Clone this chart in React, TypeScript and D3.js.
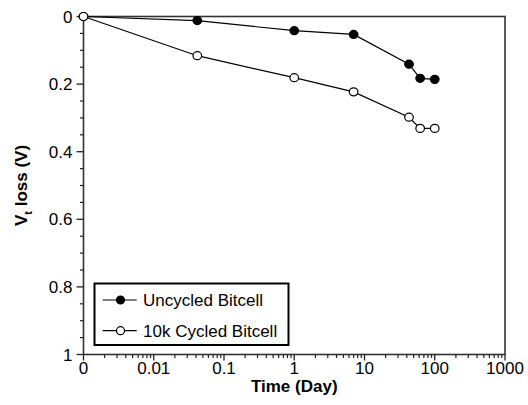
import { useMemo } from "react";
import * as d3 from "d3";

// time in days (0 drawn at the 0.001 decade position), Vt loss in volts
const times = [0, 1 / 24, 1, 7, 43, 62, 100];
const uncycled = [0, 0.012, 0.042, 0.053, 0.141, 0.183, 0.186];
const cycled = [0, 0.116, 0.181, 0.223, 0.298, 0.331, 0.331];
const xTicks = [0.001, 0.01, 0.1, 1, 10, 100, 1000];
const xTickLabels = ["0", "0.01", "0.1", "1", "10", "100", "1000"];
const yTicks = [0, 0.2, 0.4, 0.6, 0.8, 1];
const yTickLabels = ["0", "0.2", "0.4", "0.6", "0.8", "1"];
const series = [
  { name: "Uncycled Bitcell", values: uncycled, fill: "#000" },
  { name: "10k Cycled Bitcell", values: cycled, fill: "#fff" },
];

if (typeof document !== "undefined") document.body.style.margin = "0";

const W = 528, H = 405;
const M = { l: 83.5, r: 23, t: 16.5, b: 50.5 };
const FONT = "'Liberation Sans', Arial, sans-serif";

export default function App() {
  const x = d3.scaleLog().domain([0.001, 1000]).range([M.l, W - M.r]);
  const y = d3.scaleLinear().domain([0, 1]).range([M.t, H - M.b]);
  const tx = (t: number) => x(t === 0 ? 0.001 : t);

  const minorX = useMemo(() => {
    const out: number[] = [];
    for (let e = -3; e < 3; e++) for (let k = 2; k <= 9; k++) out.push(k * Math.pow(10, e));
    return out;
  }, []);
  const minorY = d3.range(0, 1.0001, 0.05).filter((_, i) => i % 4 !== 0);

  const line = d3.line<number>().x((_, i) => tx(times[i])).y(v => y(v));
  const x0 = M.l, x1 = W - M.r, y0 = M.t, y1 = H - M.b;

  const lg = { x: 94.5, y: 283.5, w: 194, h: 61.5 };

  return (
    <svg width={W} height={H} style={{ display: "block", fontFamily: FONT }}>
      <rect width={W} height={H} fill="#fff" />
      {/* frame */}
      <rect x={x0} y={y0} width={x1 - x0} height={y1 - y0} fill="none" stroke="#333" strokeWidth={1.6} />

      {/* y ticks */}
      {yTicks.map((t, i) => (
        <g key={"y" + i}>
          <line x1={x0 - 7} x2={x0} y1={y(t)} y2={y(t)} stroke="#222" strokeWidth={1.3} />
          <text x={x0 - 11} y={y(t) + 6} textAnchor="end" fontSize={17}>{yTickLabels[i]}</text>
        </g>
      ))}
      {minorY.map((t, i) => (
        <line key={"ym" + i} x1={x0 - 3.5} x2={x0} y1={y(t)} y2={y(t)} stroke="#222" strokeWidth={1.2} />
      ))}

      {/* x ticks */}
      {xTicks.map((t, i) => (
        <g key={"x" + i}>
          <line x1={x(t)} x2={x(t)} y1={y1} y2={y1 + 6} stroke="#222" strokeWidth={1.3} />
          <text x={x(t)} y={y1 + 19} textAnchor="middle" fontSize={17}>{xTickLabels[i]}</text>
        </g>
      ))}
      {minorX.map((t, i) => (
        <line key={"xm" + i} x1={x(t)} x2={x(t)} y1={y1} y2={y1 + 3.5} stroke="#222" strokeWidth={1.2} />
      ))}

      {/* axis titles */}
      <text x={(x0 + x1) / 2} y={392} textAnchor="middle" fontSize={17} fontWeight="bold">Time (Day)</text>
      <text transform={`translate(27 ${(y0 + y1) / 2}) rotate(-90)`} textAnchor="middle" fontSize={17} fontWeight="bold">
        V<tspan fontSize={11} dy={5}>t</tspan><tspan dy={-5}> loss (V)</tspan>
      </text>

      {/* series */}
      {series.map((s, si) => (
        <g key={"s" + si}>
          <path d={line(s.values) || ""} fill="none" stroke="#000" strokeWidth={1.2} />
          {s.values.map((v, i) => (
            <ellipse key={i} cx={tx(times[i])} cy={y(v)} rx={4.3} ry={4} fill={s.fill} stroke="#000" strokeWidth={1.2} />
          ))}
        </g>
      ))}

      {/* legend */}
      <rect x={lg.x} y={lg.y} width={lg.w} height={lg.h} fill="#fff" stroke="#000" strokeWidth={2} />
      {series.map((s, i) => {
        const cy = 300 + i * 30.7;
        return (
          <g key={"l" + i}>
            <line x1={102.7} x2={136.7} y1={cy} y2={cy} stroke="#000" strokeWidth={1.2} />
            <circle cx={120.5} cy={cy} r={4} fill={s.fill} stroke="#000" strokeWidth={1.2} />
            <text x={143} y={cy + 6} fontSize={17}>{s.name}</text>
          </g>
        );
      })}
    </svg>
  );
}
